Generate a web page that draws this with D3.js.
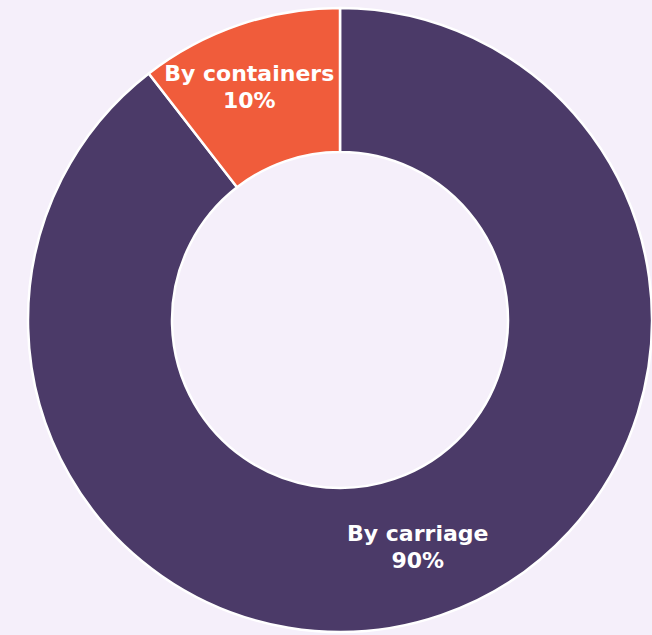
<!DOCTYPE html>
<html lang="en">
<head>
<meta charset="utf-8"/>
<title>Donut</title>
<script src="https://d3js.org/d3.v7.min.js"></script>
<style>
  html, body { margin: 0; padding: 0; background: #f5effa; overflow: hidden; }
  svg { display: block; }
</style>
</head>
<body>
<div id="chart"></div>
<script>
// data
const categories = ["By carriage", "By containers"]
const shares = [89.5, 10.5]
const labelsPct = ["90%", "10%"]
const colors = ["#4b3a68", "#f05c3b"]

const width = 652
const height = 635
const cx = 340, cy = 320
const outerR = 312, innerR = 168

const svg = d3.select("#chart").append("svg")
  .attr("width", width)
  .attr("height", height)

const g = svg.append("g").attr("transform", `translate(${cx},${cy})`)

const pie = d3.pie().sort(null).value(d => d.v)
const arc = d3.arc().innerRadius(innerR).outerRadius(outerR)

const rows = categories.map((c, i) => ({ name: c, v: shares[i], pct: labelsPct[i], color: colors[i] }))
const arcs = pie(rows)

g.selectAll("path.slice")
  .data(arcs)
  .join("path")
  .attr("class", "slice")
  .attr("d", arc)
  .attr("fill", d => d.data.color)
  .attr("stroke", "#fff")
  .attr("stroke-width", 2.5)
  .attr("stroke-linejoin", "round")

// small nudge so the short label stays inside its slice
const nudge = [[0, 0], [-13, -6]]

const lbl = g.selectAll("text.lbl")
  .data(arcs)
  .join("text")
  .attr("class", "lbl")
  .attr("transform", (d, i) => {
    const [x, y] = arc.centroid(d)
    return `translate(${x + nudge[i][0]},${y + nudge[i][1]})`
  })
  .attr("text-anchor", "middle")
  .style("font-family", "'DejaVu Sans', sans-serif")
  .style("font-weight", "bold")
  .style("font-size", "22px")
  .style("fill", "#fff")

lbl.append("tspan").attr("x", 0).attr("y", -6).text(d => d.data.name)
lbl.append("tspan").attr("x", 0).attr("y", 21).text(d => d.data.pct)
</script>
</body>
</html>
